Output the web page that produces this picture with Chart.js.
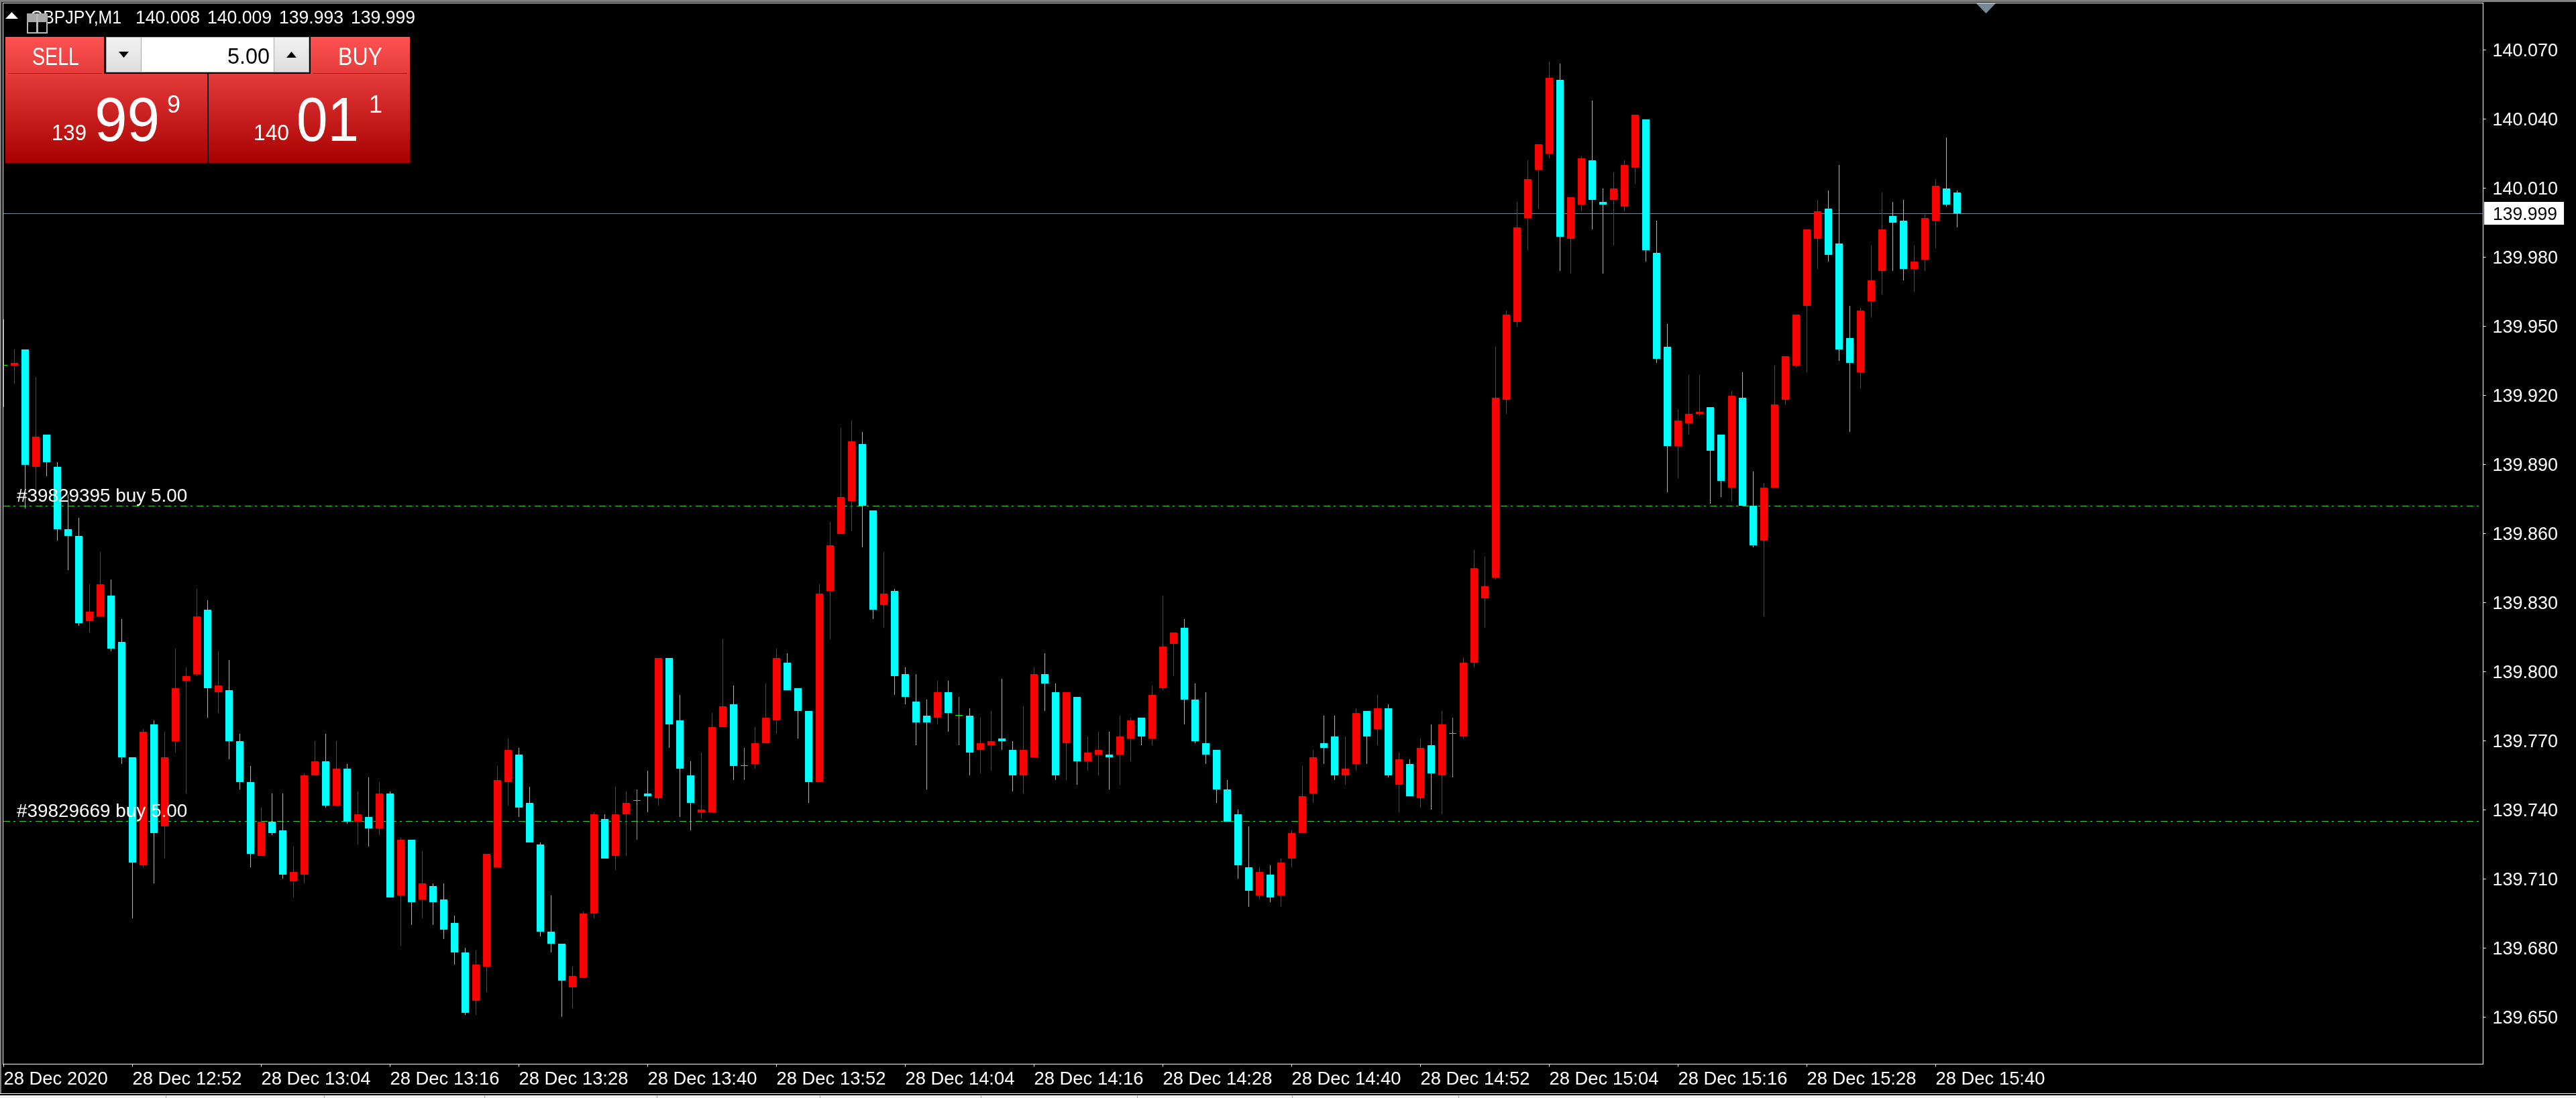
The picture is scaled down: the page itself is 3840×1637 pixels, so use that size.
<!DOCTYPE html>
<html>
<head>
<meta charset="utf-8">
<title>GBPJPY,M1</title>
<script src="https://cdn.jsdelivr.net/npm/chart.js@4/dist/chart.umd.min.js"></script>
<style>
html, body { margin: 0; padding: 0; background: #000; overflow: hidden; }
canvas { position: absolute; left: 0; top: 0; }
</style>
</head>
<body>
<canvas id="priceChart" width="3840" height="1637"></canvas>
<script>
// one candle a minute from 12:40
var opens = [
139.933,139.933,139.940,139.889,139.903,139.889,139.862,139.859,139.822,139.824,
139.833,139.813,139.763,139.716,139.777,139.733,139.770,139.796,139.799,139.827,
139.791,139.792,139.770,139.752,139.720,139.735,139.731,139.709,139.712,139.755,
139.761,139.742,139.758,139.735,139.737,139.732,139.747,139.703,139.727,139.701,
139.707,139.701,139.691,139.678,139.657,139.672,139.715,139.752,139.764,139.743,
139.725,139.687,139.682,139.663,139.667,139.695,139.736,139.720,139.738,139.744,
139.747,139.745,139.806,139.779,139.755,139.739,139.739,139.776,139.786,139.759,
139.760,139.769,139.779,139.804,139.793,139.783,139.752,139.835,139.860,139.874,
139.899,139.870,139.829,139.835,139.799,139.787,139.781,139.780,139.791,139.781,
139.781,139.766,139.768,139.771,139.766,139.755,139.763,139.799,139.791,139.769,
139.789,139.761,139.764,139.764,139.764,139.771,139.780,139.771,139.793,139.812,
139.819,139.788,139.769,139.766,139.749,139.738,139.715,139.703,139.712,139.703,
139.719,139.730,139.747,139.769,139.772,139.755,139.760,139.783,139.775,139.784,
139.751,139.760,139.745,139.768,139.755,139.773,139.772,139.804,139.832,139.841,
139.918,139.952,139.997,140.018,140.025,140.057,139.988,140.003,140.022,140.004,
140.005,140.002,140.019,140.040,139.982,139.941,139.898,139.908,139.912,139.915,
139.903,139.880,139.919,139.872,139.857,139.880,139.918,139.933,139.959,139.988,
140.001,139.986,139.945,139.930,139.961,139.974,139.998,139.996,139.975,139.979,
139.996,140.010,140.008];
var highs = [
139.953,139.940,139.940,139.928,139.903,139.891,139.877,139.867,139.838,139.852,
139.840,139.823,139.763,139.775,139.779,139.774,139.810,139.802,139.836,139.831,
139.809,139.805,139.773,139.759,139.741,139.747,139.747,139.724,139.756,139.770,
139.773,139.770,139.760,139.748,139.754,139.752,139.748,139.728,139.727,139.722,
139.708,139.708,139.694,139.680,139.679,139.721,139.759,139.771,139.767,139.750,
139.726,139.703,139.682,139.672,139.696,139.739,139.738,139.750,139.748,139.749,
139.757,139.806,139.806,139.790,139.761,139.765,139.782,139.814,139.794,139.767,
139.776,139.795,139.810,139.808,139.793,139.783,139.838,139.865,139.906,139.909,
139.904,139.870,139.852,139.836,139.802,139.799,139.788,139.796,139.796,139.789,
139.784,139.780,139.783,139.797,139.770,139.785,139.802,139.808,139.795,139.791,
139.789,139.772,139.774,139.774,139.781,139.780,139.780,139.794,139.833,139.817,
139.823,139.795,139.791,139.766,139.753,139.740,139.733,139.715,139.716,139.719,
139.731,139.759,139.766,139.781,139.781,139.772,139.784,139.783,139.790,139.786,
139.765,139.762,139.771,139.777,139.783,139.780,139.806,139.853,139.850,139.941,
139.957,140.004,140.022,140.029,140.065,140.064,140.006,140.024,140.048,140.010,
140.017,140.022,140.042,140.040,139.996,139.951,139.914,139.929,139.929,139.915,
139.903,139.922,139.930,139.887,139.882,139.933,139.937,139.955,139.992,140.005,
140.009,140.020,139.959,139.958,139.985,140.008,140.004,140.005,139.985,139.999,
140.014,140.032,140.009];
var lows = [
139.915,139.925,139.871,139.877,139.885,139.857,139.844,139.820,139.817,139.824,
139.809,139.760,139.693,139.715,139.708,139.719,139.765,139.747,139.798,139.780,
139.782,139.762,139.749,139.715,139.720,139.729,139.710,139.702,139.708,139.755,
139.741,139.742,139.734,139.725,139.724,139.729,139.702,139.681,139.690,139.693,
139.690,139.684,139.673,139.651,139.651,139.661,139.715,139.742,139.737,139.726,
139.685,139.678,139.650,139.654,139.667,139.693,139.719,139.714,139.720,139.727,
139.739,139.742,139.767,139.737,139.731,139.736,139.739,139.776,139.753,139.753,
139.758,139.769,139.773,139.792,139.771,139.743,139.752,139.814,139.860,139.861,
139.854,139.823,139.819,139.790,139.786,139.768,139.749,139.777,139.774,139.768,
139.755,139.756,139.757,139.766,139.748,139.747,139.763,139.783,139.753,139.753,
139.751,139.757,139.755,139.749,139.751,139.761,139.768,139.768,139.792,139.798,
139.777,139.769,139.760,139.743,139.735,139.710,139.698,139.701,139.700,139.698,
139.715,139.730,139.743,139.760,139.753,139.751,139.757,139.760,139.768,139.754,
139.739,139.746,139.741,139.740,139.738,139.754,139.771,139.802,139.819,139.840,
139.912,139.950,139.983,140.001,140.023,139.974,139.973,140.000,139.992,139.973,
139.985,140.000,140.012,139.978,139.934,139.878,139.884,139.903,139.911,139.873,
139.876,139.874,139.872,139.854,139.824,139.880,139.916,139.932,139.930,139.975,
139.978,139.935,139.904,139.923,139.954,139.964,139.974,139.970,139.965,139.974,
139.984,140.002,139.993];
var closes = [
139.933,139.934,139.890,139.902,139.891,139.862,139.859,139.821,139.826,139.838,
139.810,139.763,139.717,139.774,139.730,139.763,139.793,139.798,139.824,139.793,
139.794,139.770,139.752,139.721,139.735,139.730,139.712,139.713,139.755,139.761,
139.742,139.758,139.735,139.738,139.732,139.747,139.702,139.727,139.700,139.708,
139.700,139.688,139.678,139.652,139.673,139.721,139.753,139.766,139.741,139.726,
139.687,139.682,139.666,139.668,139.695,139.738,139.719,139.738,139.743,139.744,
139.746,139.806,139.777,139.758,139.743,139.740,139.776,139.785,139.759,139.759,
139.769,139.780,139.806,139.792,139.783,139.752,139.834,139.855,139.876,139.900,
139.872,139.827,139.834,139.798,139.789,139.778,139.778,139.791,139.782,139.781,
139.765,139.769,139.770,139.770,139.755,139.766,139.799,139.795,139.755,139.791,
139.761,139.765,139.766,139.763,139.772,139.779,139.772,139.790,139.811,139.817,
139.788,139.770,139.764,139.749,139.735,139.716,139.705,139.713,139.702,139.717,
139.730,139.746,139.763,139.767,139.755,139.758,139.782,139.772,139.784,139.755,
139.762,139.746,139.767,139.756,139.777,139.773,139.804,139.845,139.837,139.919,
139.955,139.993,140.014,140.029,140.058,139.989,140.006,140.023,140.005,140.003,
140.010,140.020,140.042,139.983,139.936,139.898,139.909,139.912,139.913,139.896,
139.883,139.920,139.872,139.855,139.880,139.916,139.937,139.955,139.992,140.000,
139.981,139.940,139.934,139.957,139.970,139.992,139.995,139.975,139.978,139.997,
140.011,140.003,139.999];

var symbol = 'GBPJPY,M1';
var timeLabels = ['28 Dec 2020', '28 Dec 12:52', '28 Dec 13:04', '28 Dec 13:16', '28 Dec 13:28', '28 Dec 13:40',
    '28 Dec 13:52', '28 Dec 14:04', '28 Dec 14:16', '28 Dec 14:28', '28 Dec 14:40', '28 Dec 14:52',
    '28 Dec 15:04', '28 Dec 15:16', '28 Dec 15:28', '28 Dec 15:40'];
var priceTicks = [140.07, 140.04, 140.01, 139.98, 139.95, 139.92, 139.89, 139.86, 139.83, 139.80, 139.77, 139.74, 139.71, 139.68, 139.65];
var orderPrices = [139.872, 139.735];
var orderLabels = ['#39829395 buy 5.00', '#39829669 buy 5.00'];
var lotSize = '5.00';
var bidParts = ['139', '99', '9'];
var askParts = ['140', '01', '1'];

// the time axis runs on past the last candle, 232 one minute slots
var categories = [];
for (var m = 0; m < 232; m++) {
    var total = 12 * 60 + 40 + m;
    categories.push(Math.floor(total / 60) + ':' + String(total % 60).padStart(2, '0'));
}

var FONT = '"Liberation Sans", Arial, sans-serif';
var lastClose = closes[closes.length - 1];

var candleColors = opens.map(function (o, i) {
    if (o === closes[i]) return '#00ff00';
    return closes[i] > o ? '#ff0000' : '#00ffff';
});

function text(ctx, str, x, y, size, color, maxWidth, align) {
    ctx.font = size + 'px ' + FONT;
    ctx.fillStyle = color;
    ctx.textAlign = align || 'left';
    ctx.textBaseline = 'alphabetic';
    if (maxWidth) ctx.fillText(str, x, y, maxWidth);
    else ctx.fillText(str, x, y);
}

function triangle(ctx, x1, y1, x2, y2, x3, y3, color) {
    ctx.fillStyle = color;
    ctx.beginPath();
    ctx.moveTo(x1, y1);
    ctx.lineTo(x2, y2);
    ctx.lineTo(x3, y3);
    ctx.closePath();
    ctx.fill();
}

// MT4 snaps candles to whole pixels, a doji body still gets one row
var snapBars = {
    id: 'snapBars',
    beforeDatasetDraw: function (chart, args) {
        args.meta.data.forEach(function (el) {
            var y = Math.round(el.y), base = Math.round(el.base);
            if (y === base) base = y + 1;
            el.y = y;
            el.base = base;
        });
    }
};

var priceLines = {
    id: 'priceLines',
    beforeDatasetsDraw: function (chart) {
        var ctx = chart.ctx, y = chart.scales.y;
        ctx.save();
        ctx.lineWidth = 1;
        ctx.strokeStyle = '#32cd32';
        ctx.setLineDash([10, 5, 3, 6]);
        orderPrices.forEach(function (p) {
            var py = Math.floor(y.getPixelForValue(p)) + 0.5;
            ctx.beginPath();
            ctx.moveTo(5, py);
            ctx.lineTo(3701, py);
            ctx.stroke();
        });
        ctx.setLineDash([]);
        ctx.strokeStyle = '#778899';
        var lastY = Math.floor(y.getPixelForValue(lastClose)) + 0.5;
        ctx.beginPath();
        ctx.moveTo(5, lastY);
        ctx.lineTo(3701, lastY);
        ctx.stroke();
        ctx.restore();
    },
    afterDatasetsDraw: function (chart) {
        var ctx = chart.ctx, y = chart.scales.y;
        ctx.save();
        orderPrices.forEach(function (p, i) {
            text(ctx, orderLabels[i], 25, Math.floor(y.getPixelForValue(p)) - 6, 27.9, '#ffffff');
        });
        var lastY = y.getPixelForValue(lastClose);
        ctx.fillStyle = '#ffffff';
        ctx.fillRect(3703, Math.round(lastY) - 17, 119, 34);
        text(ctx, lastClose.toFixed(3), 3716, Math.round(lastY) + 10, 27, '#000000', 96);
        ctx.restore();
    }
};

function drawTradePanel(ctx) {
    var red = ctx.createLinearGradient(0, 55, 0, 243);
    red.addColorStop(0, '#ff5353');
    red.addColorStop(1, '#a80000');
    ctx.fillStyle = red;
    ctx.fillRect(8, 55, 147, 55);
    ctx.fillRect(463, 55, 148, 55);
    ctx.fillRect(8, 110, 301, 133);
    ctx.fillRect(311, 110, 300, 133);
    ctx.fillStyle = '#b01010';
    ctx.fillRect(12, 109, 140, 1);
    ctx.fillRect(467, 109, 140, 1);

    // lot size box
    ctx.fillStyle = '#a8a8a8';
    ctx.fillRect(158, 55, 303, 53);
    var grey = ctx.createLinearGradient(0, 56, 0, 107);
    grey.addColorStop(0, '#f2f2f2');
    grey.addColorStop(1, '#dddddd');
    ctx.fillStyle = grey;
    ctx.fillRect(159, 56, 51, 51);
    ctx.fillRect(409, 56, 51, 51);
    ctx.fillStyle = '#ffffff';
    ctx.fillRect(211, 56, 197, 51);
    triangle(ctx, 177, 77, 192, 77, 184.5, 86, '#000000');
    triangle(ctx, 427, 86, 442, 86, 434.5, 77, '#000000');

    text(ctx, 'SELL', 48, 97, 36, '#ffffff', 70);
    text(ctx, 'BUY', 504, 97, 36, '#ffffff', 66);
    text(ctx, lotSize, 402, 95, 34, '#000000', 63, 'right');

    text(ctx, bidParts[0], 77, 209, 34, '#ffffff', 52);
    text(ctx, bidParts[1], 141, 210, 92, '#ffffff', 97);
    text(ctx, bidParts[2], 249, 168, 36, '#ffffff', 20);
    text(ctx, askParts[0], 378, 209, 34, '#ffffff', 53);
    text(ctx, askParts[1], 442, 210, 92, '#ffffff', 93);
    text(ctx, askParts[2], 550, 168, 36, '#ffffff', 20);
}

var terminalChrome = {
    id: 'terminalChrome',
    afterDraw: function (chart) {
        var ctx = chart.ctx;
        ctx.save();

        // window edges and the rest of the plot frame
        ctx.fillStyle = '#808080';
        ctx.fillRect(0, 0, 3840, 3);
        ctx.fillRect(0, 0, 2, 1631);
        ctx.fillStyle = '#ffffff';
        ctx.fillRect(4, 4, 3698, 1);
        ctx.fillRect(4, 4, 1, 1583);
        ctx.fillRect(0, 1630, 3840, 1);
        ctx.fillStyle = '#f0f0f0';
        ctx.fillRect(0, 1633, 3840, 4);
        ctx.fillStyle = '#a0a0a0';
        [247, 483, 722, 979, 1222, 1462, 1695, 1926, 2174].forEach(function (x) {
            ctx.fillRect(x, 1633, 1, 4);
        });

        // chart shift marker
        triangle(ctx, 2946, 5, 2975, 5, 2960.5, 20, '#778899');

        // header line
        triangle(ctx, 8, 28, 27, 28, 17.5, 18, '#ffffff');
        var last = opens.length - 1;
        text(ctx, symbol, 45, 35, 28, '#ffffff', 136);
        [opens[last], highs[last], lows[last], closes[last]].forEach(function (v, i) {
            text(ctx, v.toFixed(3), 202 + 107 * i, 35, 28, '#ffffff', 96);
        });

        // small window icon on top of the header
        ctx.fillStyle = '#a8a8a8';
        ctx.fillRect(40, 20, 31, 13);
        ctx.fillStyle = '#000000';
        ctx.fillRect(42, 33, 12, 15);
        ctx.fillRect(57, 33, 12, 15);
        ctx.fillStyle = '#b8b8b8';
        ctx.fillRect(40, 33, 2, 17);
        ctx.fillRect(54, 20, 3, 30);
        ctx.fillRect(69, 33, 2, 17);
        ctx.fillRect(40, 48, 31, 2);

        drawTradePanel(ctx);
        ctx.restore();
    }
};

Chart.defaults.font.family = FONT;

new Chart(document.getElementById('priceChart').getContext('2d'), {
    type: 'bar',
    data: {
        labels: categories,
        datasets: [{
            label: 'wicks',
            data: highs.map(function (h, i) { return [lows[i], h]; }),
            backgroundColor: candleColors,
            barThickness: 1,
            grouped: false,
            inflateAmount: 0,
            borderWidth: 0,
            minBarLength: 1,
            clip: { left: 0.5, top: 0, right: 0, bottom: 0 },
            order: 2
        }, {
            label: 'bodies',
            data: opens.map(function (o, i) { return [o, closes[i]]; }),
            backgroundColor: candleColors,
            barThickness: 11,
            grouped: false,
            inflateAmount: 0,
            borderWidth: 0,
            minBarLength: 1,
            clip: { left: 0.5, top: 0, right: 0, bottom: 0 },
            order: 1
        }]
    },
    options: {
        responsive: false,
        devicePixelRatio: 1,
        animation: false,
        events: [],
        layout: { padding: { left: 5.5, top: 4.5, right: 0, bottom: 0 } },
        plugins: { legend: { display: false }, tooltip: { enabled: false }, title: { display: false } },
        scales: {
            x: {
                type: 'category',
                offset: false,
                grid: { offset: false, drawOnChartArea: false, tickLength: 4, tickColor: '#ffffff' },
                border: { color: '#ffffff', width: 1 },
                ticks: {
                    autoSkip: false,
                    maxRotation: 0,
                    align: 'start',
                    padding: 3,
                    color: '#ffffff',
                    font: { size: 27.4 },
                    callback: function (v, i) { return timeLabels[i]; }
                },
                afterBuildTicks: function (scale) {
                    scale.ticks = timeLabels.map(function (t, k) { return { value: k * 12 }; });
                },
                afterFit: function (scale) {
                    scale.height = 50.5;
                    scale.paddingLeft = 0;
                    scale.paddingRight = 0;
                }
            },
            y: {
                position: 'right',
                min: 139.6296,
                max: 140.09042,
                grid: { drawOnChartArea: false, tickLength: 4, tickColor: '#ffffff' },
                border: { color: '#ffffff', width: 1 },
                ticks: {
                    padding: 10,
                    labelOffset: 2,
                    color: '#ffffff',
                    font: { size: 27 },
                    callback: function (v) { return v.toFixed(3); }
                },
                afterBuildTicks: function (scale) {
                    scale.ticks = priceTicks.map(function (v) { return { value: v }; });
                },
                afterFit: function (scale) {
                    scale.width = 138.5;
                    scale.paddingTop = 0;
                    scale.paddingBottom = 0;
                }
            }
        }
    },
    plugins: [snapBars, priceLines, terminalChrome]
});
</script>
</body>
</html>
